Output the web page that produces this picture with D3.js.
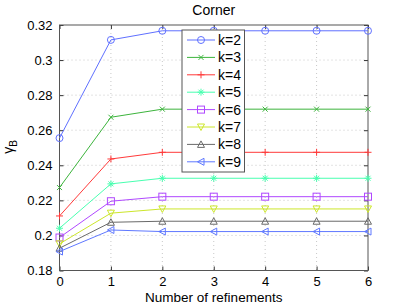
<!DOCTYPE html>
<html>
<head>
<meta charset="utf-8">
<script src="https://cdn.jsdelivr.net/npm/d3@7"></script>
<style>
  body { margin: 0; background: #fff; }
  svg { display: block; font-family: "Liberation Sans", Arial, sans-serif; }
</style>
</head>
<body>
<div id="chart"></div>
<script>
const refinements = [0, 1, 2, 3, 4, 5, 6]
const kLabels = ["k=2", "k=3", "k=4", "k=5", "k=6", "k=7", "k=8", "k=9"]
const k2 = [0.2555, 0.3115, 0.3167, 0.3167, 0.3167, 0.3167, 0.3167]
const k3 = [0.2273, 0.2674, 0.2720, 0.2720, 0.2720, 0.2720, 0.2720]
const k4 = [0.2111, 0.2436, 0.2474, 0.2474, 0.2474, 0.2474, 0.2474]
const k5 = [0.2041, 0.2294, 0.2326, 0.2326, 0.2326, 0.2326, 0.2326]
const k6 = [0.1988, 0.2195, 0.2221, 0.2221, 0.2221, 0.2221, 0.2221]
const k7 = [0.1952, 0.2127, 0.2151, 0.2151, 0.2151, 0.2151, 0.2151]
const k8 = [0.1927, 0.2075, 0.2081, 0.2081, 0.2081, 0.2081, 0.2081]
const k9 = [0.1908, 0.2031, 0.2022, 0.2022, 0.2022, 0.2022, 0.2022]
const yTicks = [0.18, 0.2, 0.22, 0.24, 0.26, 0.28, 0.3, 0.32]

const seriesValues = [k2, k3, k4, k5, k6, k7, k8, k9]
const colors = ["#5f70ff", "#3cb43c", "#ff3a3a", "#48ffb0", "#b048ff", "#cce62a", "#6a6a6a", "#5f78ff"]
const markers = ["circle", "x", "plus", "star", "square", "tridown", "triup", "trileft"]

const width = 407, height = 306
const margin = { top: 25, right: 39, bottom: 35.5, left: 59.5 }
const innerW = width - margin.left - margin.right
const innerH = height - margin.top - margin.bottom

const svg = d3.select("#chart").append("svg")
  .attr("width", width).attr("height", height)

const g = svg.append("g").attr("transform", `translate(${margin.left},${margin.top})`)

const x = d3.scaleLinear().domain([0, 6]).range([0, innerW])
const y = d3.scaleLinear().domain([0.18, 0.32]).range([innerH, 0])

// grid
g.append("g").selectAll("line")
  .data(refinements.slice(1, -1)).join("line")
  .attr("x1", d => x(d)).attr("x2", d => x(d)).attr("y1", 0).attr("y2", innerH)
  .attr("stroke", "#c8c8c8").attr("stroke-dasharray", "1,3")
g.append("g").selectAll("line")
  .data(yTicks.slice(1, -1)).join("line")
  .attr("x1", 0).attr("x2", innerW).attr("y1", d => y(d)).attr("y2", d => y(d))
  .attr("stroke", "#c8c8c8").attr("stroke-dasharray", "1,3")

// axes with inward ticks
const axisColor = "#333"
const styleAxis = sel => sel
  .call(s => s.select(".domain").remove())
  .call(s => s.selectAll(".tick line").attr("stroke", axisColor))
  .call(s => s.selectAll(".tick text").attr("font-size", 13).attr("fill", "#000").attr("font-family", "Liberation Sans, Arial, sans-serif"))

g.append("g").attr("transform", `translate(0,${innerH})`)
  .call(d3.axisBottom(x).tickValues(refinements).tickFormat(d3.format("d")).tickSizeInner(-4).tickPadding(6))
  .call(styleAxis)
g.append("g")
  .call(d3.axisTop(x).tickValues(refinements).tickFormat("").tickSizeInner(-4))
  .call(styleAxis)
g.append("g")
  .call(d3.axisLeft(y).tickValues(yTicks).tickFormat(d => String(+d.toFixed(2))).tickSizeInner(-4).tickPadding(7))
  .call(styleAxis)
g.append("g").attr("transform", `translate(${innerW},0)`)
  .call(d3.axisRight(y).tickValues(yTicks).tickFormat("").tickSizeInner(-4))
  .call(styleAxis)

g.append("rect").attr("width", innerW).attr("height", innerH)
  .attr("fill", "none").attr("stroke", "#555").attr("stroke-width", 1)

// marker drawing
function drawMarker(sel, type, color) {
  const s = 3.5
  if (type === "circle") {
    sel.append("circle").attr("r", s).attr("fill", "none").attr("stroke", color)
  } else if (type === "square") {
    sel.append("rect").attr("x", -s).attr("y", -s).attr("width", 2 * s).attr("height", 2 * s)
      .attr("fill", "none").attr("stroke", color)
  } else if (type === "x") {
    sel.append("path").attr("d", `M${-2.5},${-2.5}L2.5,2.5M${-2.5},2.5L2.5,${-2.5}`).attr("stroke", color)
  } else if (type === "plus") {
    sel.append("path").attr("d", `M${-s},0H${s}M0,${-s}V${s}`).attr("stroke", color)
  } else if (type === "star") {
    sel.append("path").attr("d", `M${-s},0H${s}M0,${-s}V${s}M-2.5,-2.5L2.5,2.5M-2.5,2.5L2.5,-2.5`).attr("stroke", color)
  } else if (type === "tridown") {
    sel.append("path").attr("d", `M${-s},${-s + 0.5}L${s},${-s + 0.5}L0,${s}Z`).attr("fill", "none").attr("stroke", color)
  } else if (type === "triup") {
    sel.append("path").attr("d", `M${-s},${s - 0.5}L${s},${s - 0.5}L0,${-s}Z`).attr("fill", "none").attr("stroke", color)
  } else if (type === "trileft") {
    sel.append("path").attr("d", `M${s - 0.5},${-s}L${s - 0.5},${s}L${-s},0Z`).attr("fill", "none").attr("stroke", color)
  }
}

const line = d3.line().x((d, i) => x(refinements[i])).y(d => y(d))

seriesValues.forEach((vals, si) => {
  g.append("path").datum(vals).attr("d", line)
    .attr("fill", "none").attr("stroke", colors[si]).attr("stroke-width", 1)
  g.append("g").selectAll("g")
    .data(vals).join("g")
    .attr("transform", (d, i) => `translate(${x(refinements[i])},${y(d)})`)
    .each(function () { drawMarker(d3.select(this), markers[si], colors[si]) })
})

// legend
const lg = svg.append("g").attr("transform", "translate(182,30)")
lg.append("rect").attr("width", 62.5).attr("height", 142)
  .attr("fill", "#fff").attr("stroke", "#555")
kLabels.forEach((lab, i) => {
  const ly = 10 + i * 17.4
  lg.append("line").attr("x1", 5).attr("x2", 33).attr("y1", ly).attr("y2", ly)
    .attr("stroke", colors[i])
  drawMarker(lg.append("g").attr("transform", `translate(19,${ly})`), markers[i], colors[i])
  lg.append("text").attr("x", 36).attr("y", ly + 5).attr("font-size", 14).text(lab)
})

// labels
svg.append("text").attr("x", margin.left + innerW / 2).attr("y", 15)
  .attr("text-anchor", "middle").attr("font-size", 14).text("Corner")
svg.append("text").attr("x", margin.left + innerW / 2).attr("y", 302)
  .attr("text-anchor", "middle").attr("font-size", 13.5).text("Number of refinements")
const yl = svg.append("text").attr("transform", "translate(13,147) rotate(-90)")
  .attr("text-anchor", "middle").attr("font-size", 14)
yl.append("tspan").text("γ")
yl.append("tspan").attr("font-size", 10).attr("dy", 4).text("B")
</script>
</body>
</html>
